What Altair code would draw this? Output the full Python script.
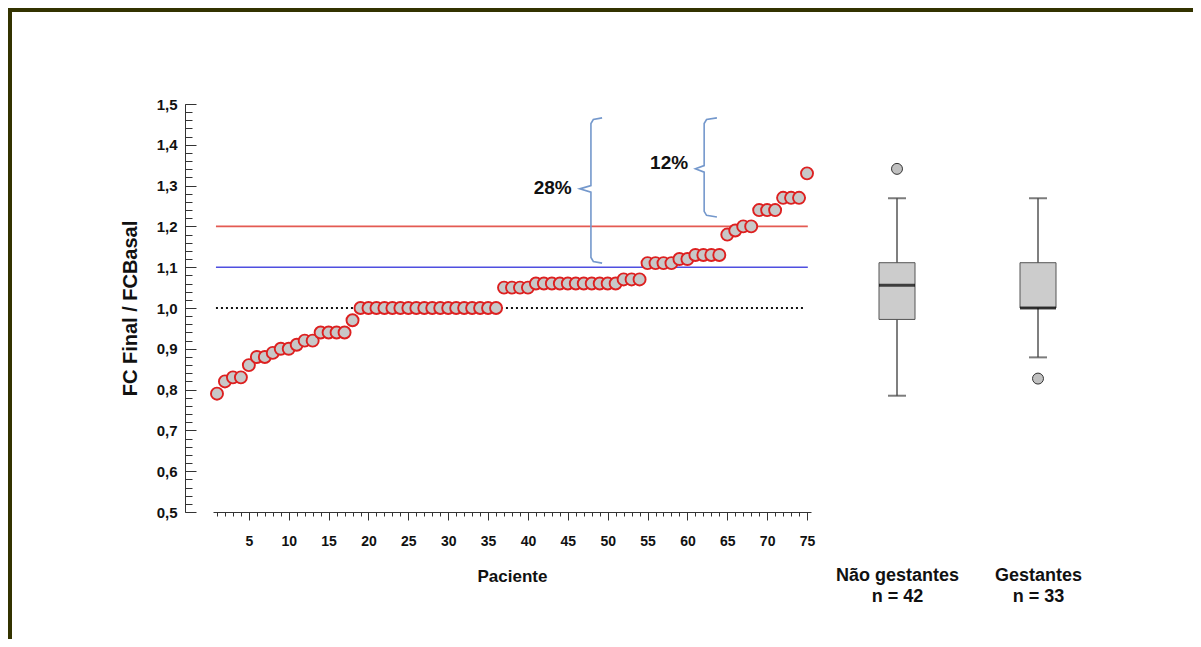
import altair as alt
import pandas as pd

# ---------------- data ----------------
patients = list(range(1, 76))
ratios = ([0.79, 0.82, 0.83, 0.83, 0.86, 0.88, 0.88, 0.89, 0.90, 0.90, 0.91, 0.92, 0.92,
           0.94, 0.94, 0.94, 0.94, 0.97]
          + [1.00] * 18 + [1.05] * 4 + [1.06] * 11 + [1.07] * 3 + [1.11] * 4
          + [1.12] * 2 + [1.13] * 4
          + [1.18, 1.19, 1.20, 1.20, 1.24, 1.24, 1.24, 1.27, 1.27, 1.27, 1.33])

ref_values = [1.2, 1.1]
ref_colors = ["#e45a52", "#4f4fe0"]
ref_start = [0.87, 0.87]
ref_end = [75.1, 75.1]
dotted_value = [1.0]

groups = ["Não gestantes|n = 42", "Gestantes|n = 33"]
box_q1 = [0.972, 1.000]
box_median = [1.056, 1.000]
box_q3 = [1.111, 1.111]
whisker_low = [0.785, 0.879]
whisker_high = [1.269, 1.269]
outlier_group = ["Não gestantes|n = 42", "Gestantes|n = 33"]
outlier_value = [1.341, 0.827]

brace_ids = ["28%"] * 9 + ["12%"] * 9
brace_order = list(range(9)) * 2
brace_x = [49.3, 48.2, 47.9, 47.9, 46.5, 47.9, 47.9, 48.2, 49.3,
           63.7, 62.4, 62.1, 62.1, 61.0, 62.1, 62.1, 62.4, 63.7]
brace_y = [1.466, 1.462, 1.452, 1.300, 1.292, 1.284, 1.124, 1.114, 1.110,
           1.466, 1.462, 1.452, 1.349, 1.341, 1.333, 1.237, 1.227, 1.223]
pct_text = ["28%", "12%"]
pct_x = [43.1, 57.7]
pct_y = [1.294, 1.355]

y_major = [round(0.5 + 0.1 * i, 1) for i in range(11)]
y_minor = [round(0.5 + 0.02 * i, 2) for i in range(51)]
x_major = list(range(5, 80, 5))
x_minor = list(range(1, 76))

# ---------------- frames ----------------
pts = pd.DataFrame({"Paciente": patients, "Razao": ratios})
refs = pd.DataFrame({"y": ref_values, "color": ref_colors, "x1": ref_start, "x2": ref_end})
dots = pd.DataFrame({"y": dotted_value, "x1": [0.87], "x2": [74.8]})
boxes = pd.DataFrame({"g": groups, "q1": box_q1, "med": box_median, "q3": box_q3,
                      "lo": whisker_low, "hi": whisker_high})
outl = pd.DataFrame({"g": outlier_group, "v": outlier_value})
braces = pd.DataFrame({"id": brace_ids, "o": brace_order, "x": brace_x, "y": brace_y})
pcts = pd.DataFrame({"t": pct_text, "x": pct_x, "y": pct_y})

W, H = 1183, 629
FONT = "Liberation Sans"
XS = alt.Scale(domain=[0.5, 75.5], range=[203, 801], nice=False, zero=False)
YS = alt.Scale(domain=[0.5, 1.5], range=[502, 94], nice=False, zero=False)
GS = alt.Scale(type="point", domain=groups, range=[887, 1028], padding=0)


def xq(field, axis=None):
    return alt.X(field, type="quantitative", scale=XS, axis=axis)


def yq(field, axis=None):
    return alt.Y(field, type="quantitative", scale=YS, axis=axis)


frame_top = alt.Chart(pts).mark_rule(color="#333300", strokeWidth=4).encode(
    x=alt.value(-2), x2=alt.value(W), y=alt.value(0))
frame_left = alt.Chart(pts).mark_rule(color="#333300", strokeWidth=4).encode(
    x=alt.value(0), y=alt.value(-2), y2=alt.value(H))

ref_layer = alt.Chart(refs).mark_rule(strokeWidth=1.6).encode(
    x=xq("x1"), x2="x2", y=yq("y"), color=alt.Color("color:N", scale=None))
dot_layer = alt.Chart(dots).mark_rule(strokeWidth=2, strokeDash=[2, 3], color="#111111").encode(
    x=xq("x1"), x2="x2", y=yq("y"))

brace_layer = alt.Chart(braces).mark_line(color="#7498cc", strokeWidth=1.6).encode(
    x=xq("x"), y=yq("y"), detail="id:N", order="o:Q")
pct_layer = alt.Chart(pcts).mark_text(font=FONT, fontSize=19, fontWeight="bold", color="#111111").encode(
    x=xq("x"), y=yq("y"), text="t:N")

x_main_axis = alt.Axis(orient="bottom", offset=-127, values=x_major, tickSize=8, tickColor="#333333",
                       domainColor="#333333", labelFont=FONT, labelFontSize=14, labelFontWeight="bold",
                       labelColor="#111111", labelPadding=14, labelFlush=False, labelOverlap=False,
                       title="Paciente", titleFont=FONT, titleFontSize=17, titleFontWeight="bold",
                       titleColor="#111111", titlePadding=20, grid=False)
y_main_axis = alt.Axis(orient="left", offset=-175, values=y_major,
                       labelExpr="replace(format(datum.value, '.1f'), '.', ',')",
                       ticks=False, tickSize=0, domain=False, labelPadding=8, labelFont=FONT,
                       labelFontSize=15, labelFontWeight="bold", labelColor="#111111",
                       labelFlush=False, labelOverlap=False,
                       title="FC Final / FCBasal", titleFont=FONT, titleFontSize=20,
                       titleFontWeight="bold", titleColor="#111111", titlePadding=16, grid=False)

point_layer = alt.Chart(pts).mark_circle(size=145, color="#c8c8c8", stroke="#dd2020",
                                         strokeWidth=1.9, opacity=1).encode(
    x=xq("Paciente", x_main_axis), y=yq("Razao", y_main_axis))

x_minor_layer = alt.Chart(pts).mark_point(opacity=0).encode(
    x=xq("Paciente", alt.Axis(orient="bottom", offset=-127, values=x_minor, tickSize=4,
                              tickColor="#333333", labels=False, domain=False, title=None, grid=False)),
    y=yq("Razao"))
y_major_layer = alt.Chart(pts).mark_point(opacity=0).encode(
    x=xq("Paciente"),
    y=yq("Razao", alt.Axis(orient="right", offset=-1008, values=y_major, tickSize=11,
                           tickColor="#333333", domainColor="#333333", labels=False,
                           title=None, grid=False)))
y_minor_layer = alt.Chart(pts).mark_point(opacity=0).encode(
    x=xq("Paciente"),
    y=yq("Razao", alt.Axis(orient="right", offset=-1008, values=y_minor, tickSize=7,
                           tickColor="#333333", domain=False, labels=False, title=None, grid=False)))

g_axis = alt.Axis(orient="bottom", offset=-127, domain=False, ticks=False, tickSize=0,
                  labelExpr="split(datum.label, '|')", labelFont=FONT, labelFontSize=18,
                  labelFontWeight="bold", labelColor="#111111", labelLineHeight=21,
                  labelPadding=54, labelAngle=0, labelFlush=False, labelOverlap=False,
                  title=None, grid=False)


def gx(axis=None):
    return alt.X("g:N", scale=GS, axis=axis)


whisk = alt.Chart(boxes).mark_rule(color="#555555", strokeWidth=1.5).encode(
    x=gx(g_axis), y=yq("lo"), y2="hi")
caps_lo = alt.Chart(boxes).mark_tick(orient="horizontal", size=18, thickness=2, color="#444444").encode(
    x=gx(), y=yq("lo"))
caps_hi = alt.Chart(boxes).mark_tick(orient="horizontal", size=18, thickness=2, color="#444444").encode(
    x=gx(), y=yq("hi"))
box = alt.Chart(boxes).mark_bar(size=36, color="#cccccc", stroke="#555555", strokeWidth=1).encode(
    x=gx(), y=yq("q1"), y2="q3")
med = alt.Chart(boxes).mark_tick(orient="horizontal", size=36, thickness=3, color="#000000").encode(
    x=gx(), y=yq("med"))
outs = alt.Chart(outl).mark_circle(size=120, color="#c0c0c0", stroke="#333333", strokeWidth=1,
                                   opacity=1).encode(x=gx(), y=yq("v"))

chart = alt.layer(
    frame_top, frame_left, ref_layer, dot_layer, brace_layer, pct_layer,
    x_minor_layer, y_major_layer, y_minor_layer, point_layer,
    whisk, caps_lo, caps_hi, box, med, outs
).resolve_scale(x="independent", y="independent").properties(
    width=W, height=H,
    autosize=alt.AutoSizeParams(type="none"),
    padding={"left": 2, "top": 2, "right": 0, "bottom": 0},
    background="white",
).configure_view(stroke=None)

chart.save("out.html", embed_options={"renderer": "svg", "actions": False})
